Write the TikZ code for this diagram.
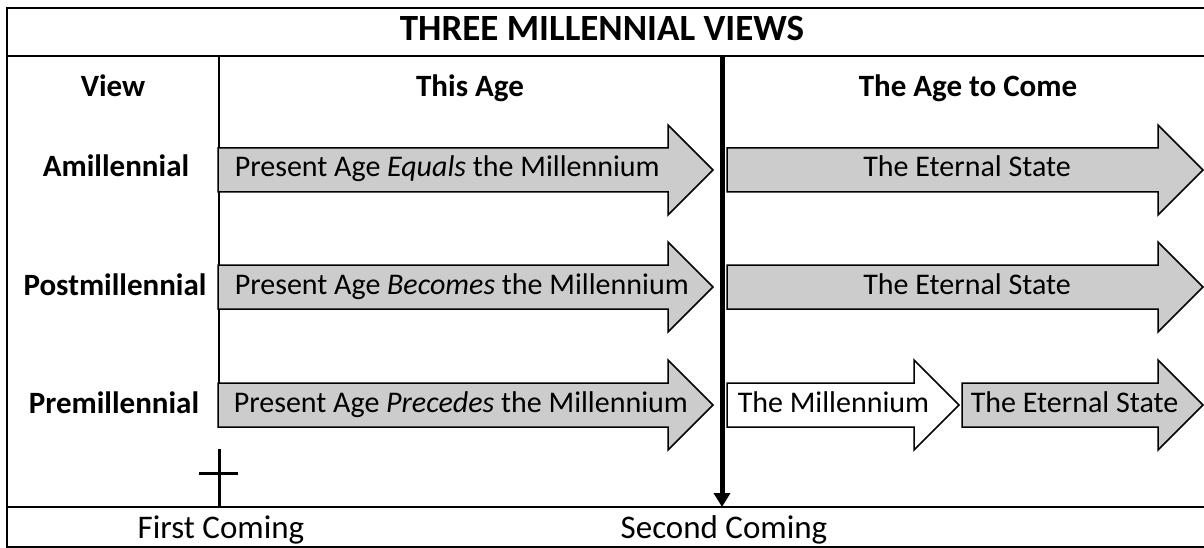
\documentclass[tikz,border=0pt]{standalone}
\usepackage{fontspec}
\setmainfont{Carlito}
\usetikzlibrary{arrows.meta}
% age arrow: [style]{left x}{tip x}{y}
\newcommand{\agebar}[4][fill=black!20]{%
  \draw[#1] (#2,#4-22) -- (#3-45,#4-22) -- (#3-45,#4-45) -- (#3,#4)
    -- (#3-45,#4+45) -- (#3-45,#4+22) -- (#2,#4+22) -- cycle;}
\begin{document}
\begin{tikzpicture}[x=1pt, y=-1pt, line width=1.5pt,
  ttl/.style={font=\fontsize{37}{40}\selectfont\bfseries, anchor=base, inner sep=0},
  head/.style={font=\fontsize{31}{34}\selectfont\bfseries, anchor=base, inner sep=0},
  txt/.style={font=\fontsize{30}{34}\selectfont, anchor=base, inner sep=0},
  foot/.style={font=\fontsize{33}{36}\selectfont, anchor=base, inner sep=0}]
\useasboundingbox (0,0) rectangle (1204,548);
\draw[line width=2pt] (7,8) rectangle (1207,547);
\draw (7,56)--(1204,56);
\draw (7,507)--(1204,507);
\node[ttl] (title) at (602,41) {THREE MILLENNIAL VIEWS};
\node[head] (view) at (113,97) {View};
\node[head] (thisage) at (470,97) {This Age};
\node[head] (tocome) at (968,97) {The Age to Come};
\node[head] (amil) at (116,177) {Amillennial};
\node[head] (postmil) at (115,295) {Postmillennial};
\node[head] (premil) at (114,413) {Premillennial};
% the arrows
\draw (219,56)--(219,427);
\agebar{218}{713}{170}
\agebar{727}{1203}{170}
\agebar{218}{713}{287}
\agebar{727}{1203}{287}
\agebar{218}{713}{405}
\agebar[fill=white]{727}{959}{405}
\agebar{962}{1203}{405}
\node[txt, anchor=base west] (amilnow) at (234,177) {Present Age \emph{Equals} the Millennium};
\node[txt] (amilnext) at (967,177) {The Eternal State};
\node[txt, anchor=base west] (postmilnow) at (234,294) {Present Age \emph{Becomes} the Millennium};
\node[txt] (postmilnext) at (967,294) {The Eternal State};
\node[txt, anchor=base west] (premilnow) at (233,412) {Present Age \emph{Precedes} the Millennium};
\node[txt, anchor=base west] (premilmil) at (737,412) {The Millennium};
\node[txt, anchor=base west] (premilnext) at (970,412) {The Eternal State};
% first and second coming
\draw[line width=3pt] (219,449)--(219,507) (199,473)--(238,473);
\coordinate (sctop) at (722,56);
\coordinate (scbot) at (722,507);
\draw[line width=5pt, -{Triangle[length=14pt,width=16pt]}] (sctop)--(scbot);
\node[foot] (first) at (221,538) {First Coming};
\node[foot] (second) at (724,538) {Second Coming};
\end{tikzpicture}
\end{document}
